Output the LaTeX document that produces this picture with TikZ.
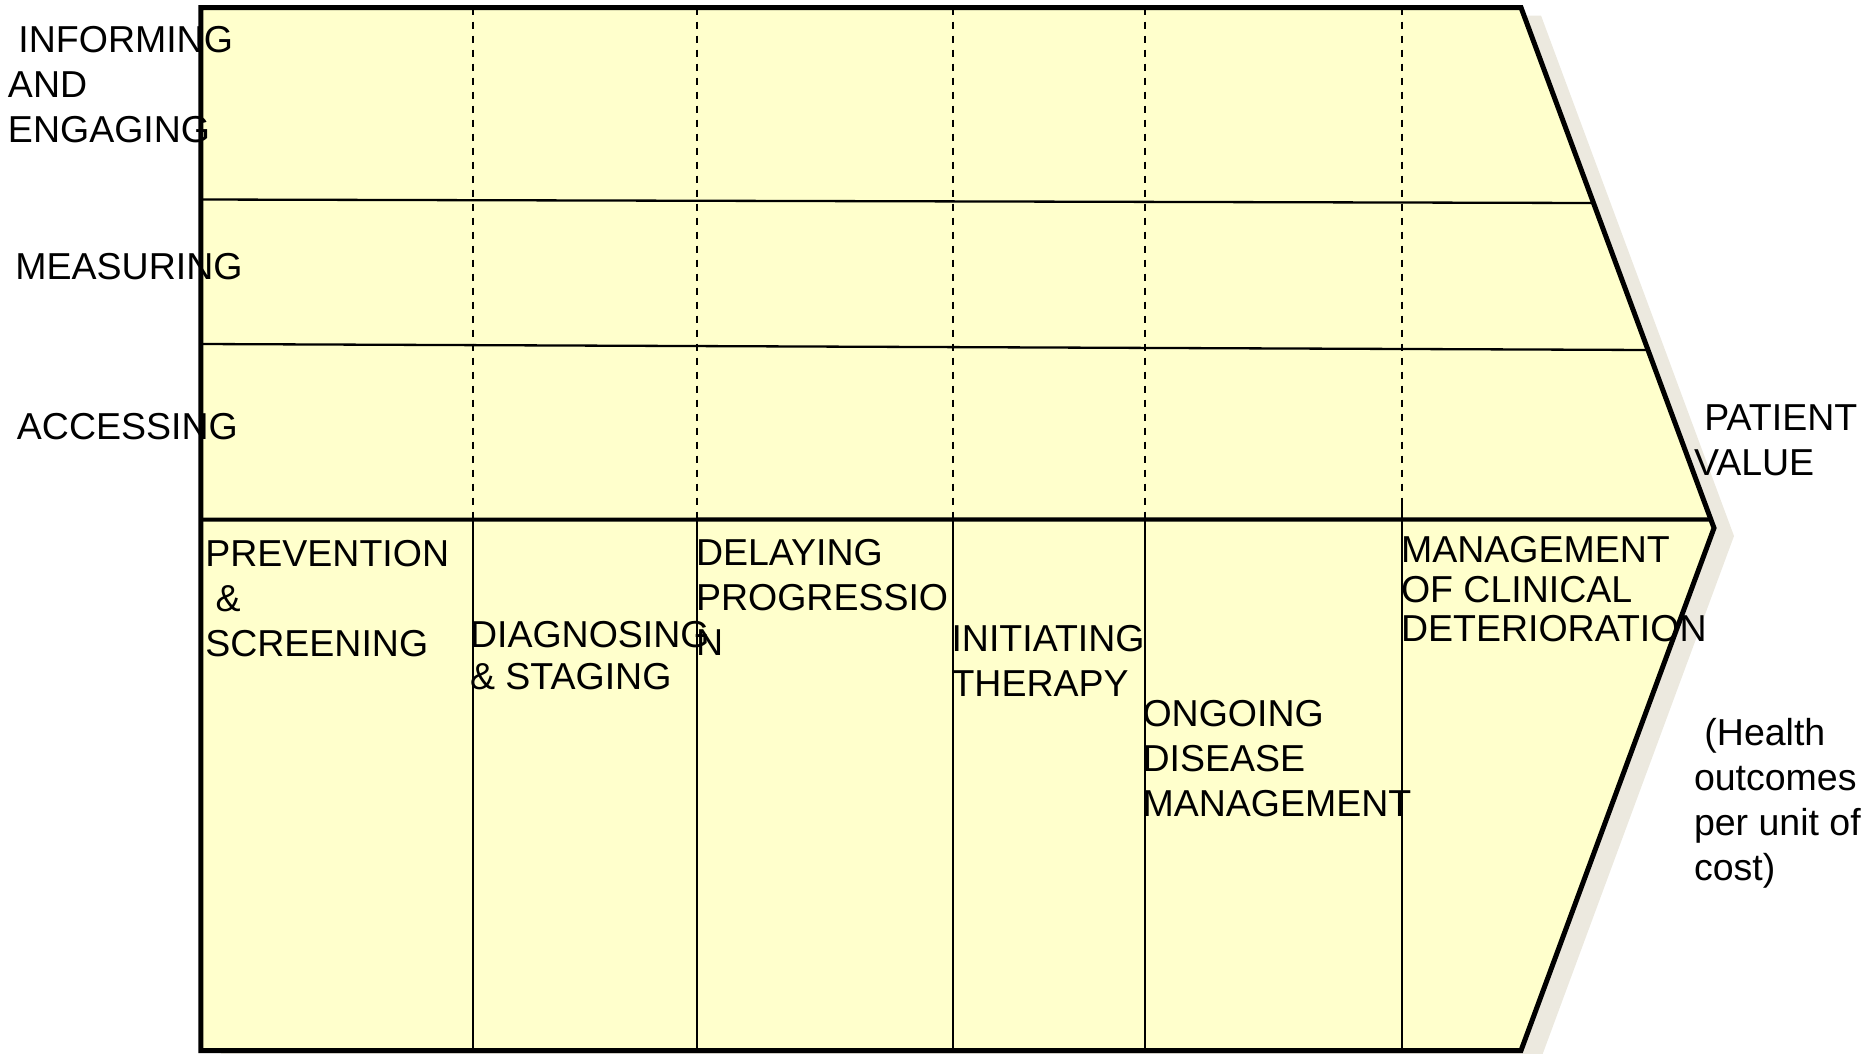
\documentclass[tikz,border=0pt]{standalone}
\usepackage{fontspec}
\setmainfont{Liberation Sans}
\usetikzlibrary{calc}

\definecolor{chainfill}{RGB}{255,255,204}
\definecolor{chainshadow}{RGB}{236,233,223}

\begin{document}
\begin{tikzpicture}[x=1pt, y=-1pt, inner sep=0pt, outer sep=0pt,
    every node/.style={anchor=north west, align=left, font=\fontsize{37.5}{45}\selectfont},
    stagediv/.style={line width=2.3pt},
    dashdiv/.style={line width=2.2pt, dash pattern=on 7pt off 7pt}]
    \useasboundingbox (0,0) rectangle (1873,1053);

    % chain outline
    \coordinate (tl) at (200.8, 7.5);
    \coordinate (tr) at (1521, 7.5);
    \coordinate (apex) at (1714, 528);
    \coordinate (br) at (1521, 1050.5);
    \coordinate (bl) at (200.8, 1050.5);

    % shadow
    \fill[chainshadow] ($(tl)+(20,8)$) -- ($(tr)+(20,8)$) -- ($(apex)+(20,8)$)
        -- ($(br)+(20,8)$) -- ($(bl)+(20,8)$) -- cycle;
    \fill[chainfill] (tl) -- (tr) -- (apex) -- (br) -- (bl) -- cycle;

    % rows
    \draw[stagediv] (200.8, 199.5) -- ($(tr)!0.3756!(apex)$);
    \draw[stagediv] (200.8, 344) -- ($(tr)!0.658!(apex)$);
    \coordinate (mid) at (200.8, 519.6);
    \draw[line width=4.2pt] (mid) -- ($(tr)!0.9838!(apex)$);

    % stage dividers
    \coordinate (div1) at (473, 519.6);
    \coordinate (div2) at (697, 519.6);
    \coordinate (div3) at (953, 519.6);
    \coordinate (div4) at (1145, 519.6);
    \coordinate (div5) at (1402, 519.6);
    \draw[dashdiv] (div1 |- tl) -- (div1);
    \draw[dashdiv] (div2 |- tl) -- (div2);
    \draw[dashdiv] (div3 |- tl) -- (div3);
    \draw[dashdiv] (div4 |- tl) -- (div4);
    \draw[dashdiv] (div5 |- tl) -- ($(div5)+(0,-16)$);
    \draw[stagediv] (div1) -- (div1 |- bl);
    \draw[stagediv] (div2) -- (div2 |- bl);
    \draw[stagediv] (div3) -- (div3 |- bl);
    \draw[stagediv] (div4) -- (div4 |- bl);
    \draw[stagediv] ($(div5)+(0,-16)$) -- (div5 |- bl);

    \draw[line width=5pt, line join=miter] (tl) -- (tr) -- (apex) -- (br) -- (bl) -- cycle;

    % row labels
    \node (inform) at (8, 26.4) {\ INFORMING\\AND\\ENGAGING};
    \node (measure) at (5, 253.4) {\ MEASURING};
    \node (access) at (6.5, 413.4) {\ ACCESSING};

    % stage labels
    \node (prevent) at ($(mid) + (4.5, 20.4)$) {PREVENTION\\\ \&\\SCREENING};
    \node[font=\fontsize{37.5}{42}\selectfont] (diagnose) at ($(div1) + (-3, 101.4)$)
    {DIAGNOSING\\\& STAGING};
    \node (delay) at ($(div2) + (-1, 19.4)$) {DELAYING\\PROGRESSIO\\N};
    \node (initiate) at ($(div3) + (-1.5, 105.4)$) {INITIATING\\THERAPY};
    \node (ongoing) at ($(div4) + (-2.5, 180.4)$) {ONGOING\\DISEASE\\MANAGEMENT};
    \node[font=\fontsize{37.5}{39.5}\selectfont] (clinical) at ($(div5) + (-1, 16.9)$)
    {MANAGEMENT\\OF CLINICAL\\DETERIORATION};

    % value
    \node (value) at (1694, 405) {\ PATIENT\\VALUE};
    \node (health) at (1694, 718.5) {\ (Health\\outcomes\\per unit of\\cost)};
\end{tikzpicture}
\end{document}
